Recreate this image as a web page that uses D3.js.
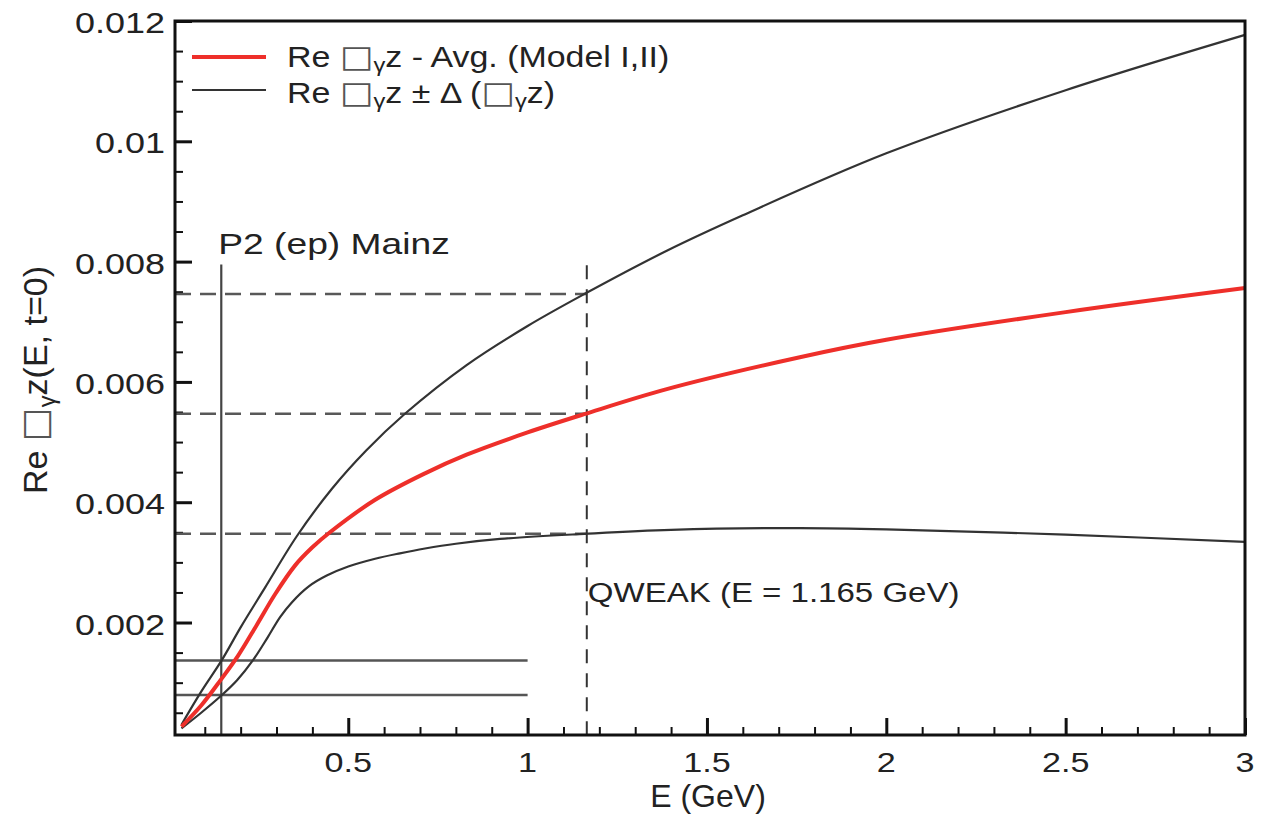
<!DOCTYPE html>
<html><head><meta charset="utf-8">
<script src="https://cdn.jsdelivr.net/npm/d3@7"></script>
<style>
html,body{margin:0;padding:0;background:#fff;}
svg{display:block;font-family:"Liberation Sans",Arial,Helvetica,sans-serif;}
</style></head>
<body>
<svg id="chart" width="1265" height="821"></svg>
<script>
// ---------- data ----------
const xTickLabels = ["0.5","1","1.5","2","2.5","3"];
const xTickValues = [0.5,1,1.5,2,2.5,3];
const yTickLabels = ["0.002","0.004","0.006","0.008","0.01","0.012"];
const yTickValues = [0.002,0.004,0.006,0.008,0.010,0.012];

const upperE = [0.035,0.09,0.147,0.2,0.268,0.356,0.454,0.55,0.658,0.83,1.0,1.158,1.388,1.6,2.0,2.5,3.0];
const upperV = [0.00030,0.00085,0.00137,0.00192,0.00258,0.00343,0.00422,0.00486,0.00547,0.00628,0.00693,0.00746,0.00818,0.00877,0.00980,0.01085,0.01177];

const avgE = [0.035,0.09,0.145,0.193,0.245,0.296,0.352,0.40,0.449,0.575,0.714,0.83,1.0,1.158,1.388,1.759,2.0,2.5,3.0];
const avgV = [0.00027,0.00062,0.00105,0.00145,0.00196,0.00247,0.00295,0.00325,0.00350,0.00404,0.00448,0.00479,0.00516,0.005464,0.00588,0.00641,0.00670,0.00716,0.00756];

const lowerE = [0.035,0.09,0.147,0.19,0.234,0.275,0.31,0.342,0.39,0.44,0.5,0.575,0.644,0.714,0.8,0.923,1.158,1.4,1.759,2.0,2.5,3.0];
const lowerV = [0.00024,0.00050,0.00079,0.00104,0.00137,0.00175,0.00209,0.00233,0.00260,0.00278,0.00293,0.00306,0.00315,0.00323,0.00331,0.00339,0.003474,0.00354,0.00357,0.00355,0.00346,0.00334];

const p2E = 0.146;          // P2 (ep) Mainz energy marker
const p2Top = 0.00795;
const qweakE = 1.165;       // QWEAK energy
const qweakTop = 0.00794;
const p2Levels = [0.001368, 0.000794];     // solid horizontal lines
const p2LevelEnd = 1.0;
const qweakLevels = [0.007463, 0.005469, 0.003474]; // dashed horizontal lines

// ---------- scales ----------
const svg = d3.select("#chart");
const x = d3.scaleLinear().domain([0.017,3]).range([175,1245]);
const y = d3.scaleLinear().domain([0.00013,0.012]).range([735,21]);

const red = "#ee2f2a", dark = "#333333", dashCol = "#585858";

// ---------- ticks ----------
const xMinor = d3.range(1,30).map(i=>i/10).filter(v=>Math.abs(v*2-Math.round(v*2))>1e-6);
const yMinor = d3.range(1,24).map(i=>i*0.0005).filter(v=>Math.abs(v/0.002-Math.round(v/0.002))>1e-6);

const gx = svg.append("g").attr("transform","translate(0,735)");
gx.call(d3.axisBottom(x).tickValues(xTickValues).tickSize(-17).tickFormat("").tickSizeOuter(0));
const gxm = svg.append("g").attr("transform","translate(0,735)");
gxm.call(d3.axisBottom(x).tickValues(xMinor).tickSize(-8).tickFormat("").tickSizeOuter(0));
const gy = svg.append("g").attr("transform","translate(175,0)");
gy.call(d3.axisLeft(y).tickValues(yTickValues).tickSize(-17).tickFormat("").tickSizeOuter(0));
const gym = svg.append("g").attr("transform","translate(175,0)");
gym.call(d3.axisLeft(y).tickValues(yMinor).tickSize(-8).tickFormat("").tickSizeOuter(0));
[gx,gy].forEach(g=>{g.selectAll(".tick line").attr("stroke","#111").attr("stroke-width",3); g.select(".domain").remove();});
[gxm,gym].forEach(g=>{g.selectAll(".tick line").attr("stroke","#111").attr("stroke-width",2); g.select(".domain").remove();});

// tick labels
svg.append("g").selectAll("text").data(xTickValues).join("text")
  .attr("transform",d=>`translate(${x(d)},772) scale(1.22,1)`)
  .attr("text-anchor","middle").attr("font-size",28).attr("fill","#222")
  .text((d,i)=>xTickLabels[i]);
svg.append("g").selectAll("text").data(yTickValues).join("text")
  .attr("transform",d=>`translate(165,${y(d)+12}) scale(1.22,1)`)
  .attr("text-anchor","end").attr("font-size",29.5).attr("fill","#222")
  .text((d,i)=>yTickLabels[i]);

// ---------- reference lines ----------
const refs = svg.append("g");
refs.selectAll("line.qh").data(qweakLevels).join("line").attr("class","qh")
  .attr("x1",x.range()[0]).attr("x2",x(qweakE)).attr("y1",d=>y(d)).attr("y2",d=>y(d))
  .attr("stroke",dashCol).attr("stroke-width",2.5).attr("stroke-dasharray","16,9");
refs.append("line").attr("x1",x(qweakE)).attr("x2",x(qweakE)).attr("y1",y(qweakTop)).attr("y2",y.range()[0])
  .attr("stroke","#333").attr("stroke-width",2).attr("stroke-dasharray","14,10");
refs.selectAll("line.ph").data(p2Levels).join("line").attr("class","ph")
  .attr("x1",x.range()[0]).attr("x2",x(p2LevelEnd)).attr("y1",d=>y(d)).attr("y2",d=>y(d))
  .attr("stroke","#555").attr("stroke-width",2.5);
refs.append("line").attr("x1",x(p2E)).attr("x2",x(p2E)).attr("y1",y(p2Top)).attr("y2",y.range()[0])
  .attr("stroke","#444").attr("stroke-width",2.2);

// ---------- curves ----------
const line = d3.line().x(d=>x(d[0])).y(d=>y(d[1])).curve(d3.curveCatmullRom.alpha(0.5));
const zip = (a,b)=>a.map((v,i)=>[v,b[i]]);
svg.append("path").datum(zip(upperE,upperV)).attr("d",line).attr("fill","none").attr("stroke",dark).attr("stroke-width",2.2);
svg.append("path").datum(zip(lowerE,lowerV)).attr("d",line).attr("fill","none").attr("stroke",dark).attr("stroke-width",2.2);
svg.append("path").datum(zip(avgE,avgV)).attr("d",line).attr("fill","none").attr("stroke",red).attr("stroke-width",4);

// ---------- frame ----------
svg.append("rect").attr("x",175).attr("y",21).attr("width",1070).attr("height",714)
  .attr("fill","none").attr("stroke","#111").attr("stroke-width",3);

// ---------- annotations ----------
svg.append("text").attr("transform",`translate(${x(p2E)-3},254) scale(1.24,1)`)
  .attr("font-size",30).attr("fill","#222").text("P2 (ep) Mainz");
svg.append("text").attr("transform",`translate(${x(qweakE)+1},602) scale(1.18,1)`)
  .attr("font-size",28).attr("fill","#222").text("QWEAK (E = 1.165 GeV)");

// axis titles
svg.append("text").attr("x",708).attr("y",807).attr("text-anchor","middle")
  .attr("font-size",32).attr("fill","#222").text("E (GeV)");

function box(sel, fs){
  sel.append("tspan").attr("font-family","DejaVu Sans").attr("font-size",fs*1.05).attr("fill","#555").text("□");
}
function gam(sel, fs, d){
  sel.append("tspan").attr("font-size",fs*0.7).attr("dy",d).text("γ");
}
const yt = svg.append("text").attr("transform","translate(47,380) rotate(-90)")
  .attr("text-anchor","middle").attr("font-size",34).attr("fill","#222");
yt.append("tspan").text("Re ");
box(yt,34); gam(yt,34,8);
yt.append("tspan").attr("dy",-8).text("z(E, t=0)");

// ---------- legend ----------
const lg = svg.append("g");
lg.append("line").attr("x1",192).attr("x2",266).attr("y1",57).attr("y2",57).attr("stroke",red).attr("stroke-width",4);
lg.append("line").attr("x1",192).attr("x2",266).attr("y1",90).attr("y2",90).attr("stroke",dark).attr("stroke-width",2.2);
const lfs = 29;
const l1 = lg.append("text").attr("transform","translate(287,67) scale(1.17,1)").attr("font-size",lfs).attr("fill","#222");
l1.append("tspan").text("Re ");
box(l1,lfs); gam(l1,lfs,5);
l1.append("tspan").attr("dy",-5).text("z - Avg. (Model I,II)");
const l2 = lg.append("text").attr("transform","translate(287,103) scale(1.17,1)").attr("font-size",lfs).attr("fill","#222");
l2.append("tspan").text("Re ");
box(l2,lfs); gam(l2,lfs,5);
l2.append("tspan").attr("dy",-5).text("z ± Δ (");
box(l2,lfs); gam(l2,lfs,5);
l2.append("tspan").attr("dy",-5).text("z)");
</script>
</body></html>
